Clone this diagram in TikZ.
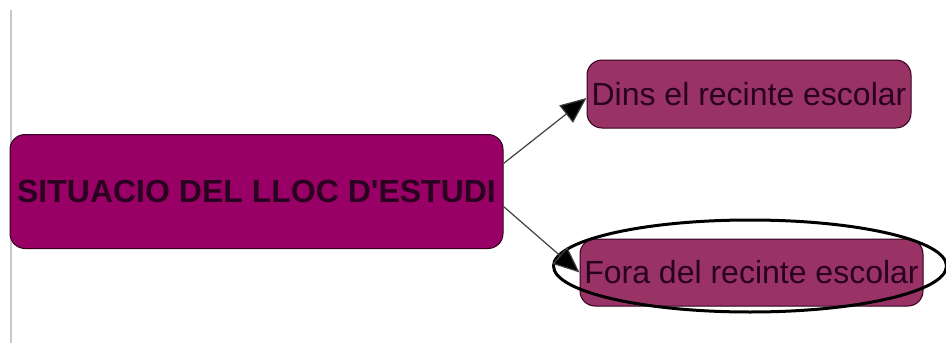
\documentclass[tikz,border=0pt]{standalone}
\usepackage{fontspec}
\setmainfont{Liberation Sans}
\usetikzlibrary{arrows.meta,shapes.geometric}
\definecolor{mainfill}{HTML}{990066}
\definecolor{subfill}{HTML}{993366}
\definecolor{edgecol}{HTML}{33001F}
\definecolor{textcol}{HTML}{2A0020}
\definecolor{rulegray}{HTML}{C8C8C8}
\tikzset{
  topicbox/.style={draw=edgecol, line width=1pt, rounded corners=15pt,
    inner sep=0pt, text=textcol, font=\fontsize{32}{36}\selectfont},
  link/.style={draw=black!75, line width=1.2pt,
    -{Triangle[length=26pt,width=22pt,fill=black]}},
  highlight/.style={draw=black, line width=3pt},
}
\begin{document}
\begin{tikzpicture}[x=1pt,y=-1pt]
  \useasboundingbox[fill=white] (0,0) rectangle (946,343);
  % left margin rule
  \draw[rulegray, line width=2pt] (11,10) -- (11,343);
  % topic boxes
  \node[topicbox, fill=mainfill, minimum width=493pt, minimum height=114pt,
        font=\fontsize{32}{36}\selectfont\bfseries] (main) at (256.5,191.5)
        {SITUACIO DEL LLOC D\textquotesingle ESTUDI};
  \node[topicbox, fill=subfill, minimum width=324pt, minimum height=68pt] (dins)
        at (749,94) {Dins el recinte escolar};
  \node[topicbox, fill=subfill, minimum width=343pt, minimum height=67pt] (fora)
        at (751.5,272.5) {Fora del recinte escolar};
  % ring around the second subtopic
  \node[highlight, ellipse, minimum width=393pt, minimum height=92pt, inner sep=0pt]
        (ring) at (750,266) {};
  % connectors
  \draw[link] ([yshift=28pt]main.east) -- ([yshift=-4pt]dins.west);
  \draw[link] ([yshift=-15pt]main.east) -- (fora.west);
\end{tikzpicture}
\end{document}
